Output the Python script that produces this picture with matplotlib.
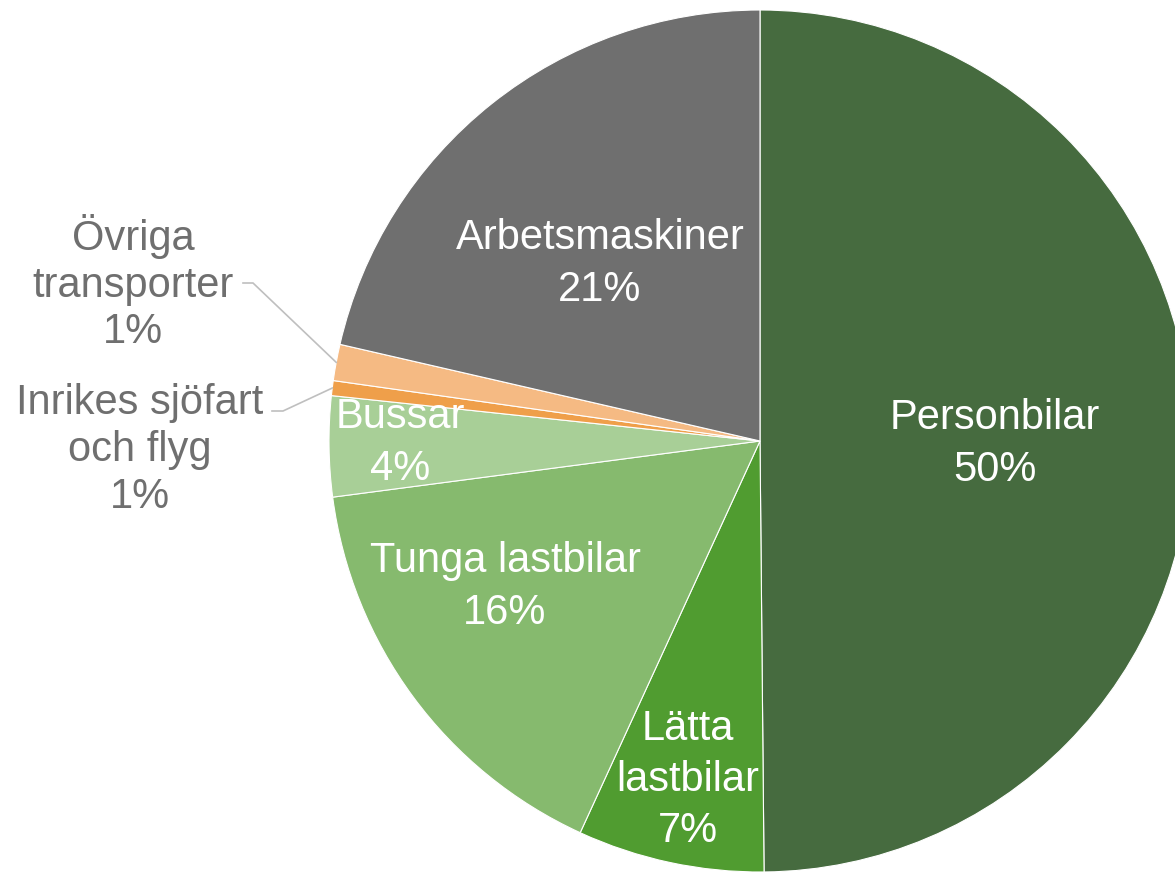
import matplotlib
matplotlib.use("Agg")
import matplotlib.pyplot as plt
import numpy as np

categories = ["Personbilar", "Lätta\nlastbilar", "Tunga lastbilar", "Bussar",
              "Inrikes sjöfart\noch flyg", "Övriga\ntransporter", "Arbetsmaskiner"]
values = [49.85, 7.0, 16.07, 3.76, 0.56, 1.36, 21.4]
colors = ["#466B3F", "#509C30", "#86BA6E", "#A8CF97", "#EF9F4A", "#F5BA83", "#6F6F6F"]

# label anchors in pixel coordinates of the output image (layout)
label_px = [(995, 444), (688, 780), (505, 587), (400, 443), (140, 450), (133, 283), (600, 264)]
outside = [False, False, False, False, True, True, False]
# leader elbow points (pixel) for outside labels: (text-end x, elbow x, y)
leader_px = {4: (272, 283, 411), 5: (243, 253, 283)}

W, H = 1175, 872
CX, CY, R = 760, 441, 431

plt.rcParams['font.family'] = ['Liberation Sans', 'DejaVu Sans']
fig = plt.figure(figsize=(W / 100, H / 100), dpi=100)
ax = fig.add_axes([0, 0, 1, 1])

wedges, _ = ax.pie(values, colors=colors, startangle=90, counterclock=False,
                   radius=1.0, wedgeprops=dict(edgecolor="white", linewidth=0.8))

ax.set_xlim(-CX / R, (W - CX) / R)
ax.set_ylim(-(H - CY) / R, CY / R)
ax.set_aspect('auto')
ax.axis('off')


def p2d(px, py):
    return ((px - CX) / R, (CY - py) / R)


for i, (cat, v) in enumerate(zip(categories, values)):
    x, y = p2d(*label_px[i])
    txt = f"{cat}\n{round(v):.0f}%"
    col = "#6F6F6F" if outside[i] else "white"
    ax.text(x, y, txt, ha="center", va="center", multialignment="center",
            fontsize=30, color=col, linespacing=1.22 if outside[i] else 1.37)
    if outside[i]:
        w = wedges[i]
        mid = np.deg2rad((w.theta1 + w.theta2) / 2)
        ex, ey = np.cos(mid), np.sin(mid)
        tx, elx, ly = leader_px[i]
        x1, y1 = p2d(tx, ly)
        x2, y2 = p2d(elx, ly)
        ax.plot([x1, x2, ex], [y1, y2, ey], color="#BFBFBF", lw=1.2,
                solid_joinstyle="miter")

fig.savefig("out.png", dpi=100)
